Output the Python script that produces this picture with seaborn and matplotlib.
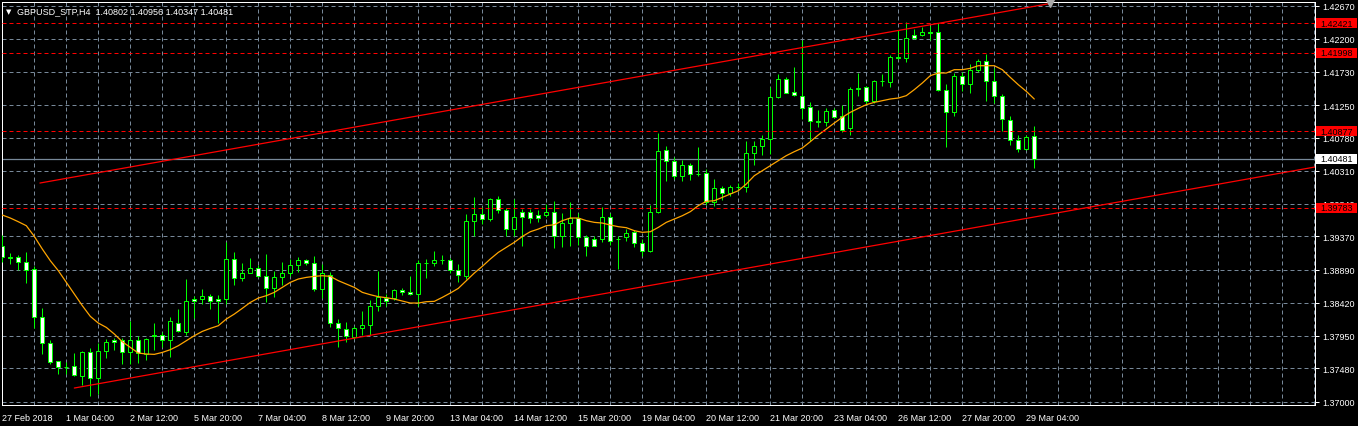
import numpy as np
import pandas as pd
import matplotlib
matplotlib.use("Agg")
import matplotlib.pyplot as plt
import matplotlib.transforms as mtransforms
from matplotlib.patches import Rectangle
import seaborn as sns

# --- chart data (GBPUSD H4) ---
title_text = "GBPUSD_STP,H4  1.40802 1.40956 1.40347 1.40481"

opens = [1.39228, 1.39076, 1.39071, 1.38999, 1.38899, 1.38212, 1.37839, 1.37582, 1.37505, 1.37510,
         1.37376, 1.37710, 1.37338, 1.37725, 1.37882, 1.37882, 1.37710, 1.37882, 1.37687, 1.37954,
         1.37954, 1.37882, 1.38135, 1.38006, 1.38469, 1.38469, 1.38512, 1.38469, 1.38469, 1.39042,
         1.38770, 1.38846, 1.38913, 1.38808, 1.38627, 1.38784, 1.38846, 1.38961, 1.39028, 1.38985,
         1.38613, 1.38818, 1.38126, 1.38040, 1.37926, 1.38059, 1.38098, 1.38370, 1.38489, 1.38484,
         1.38599, 1.38570, 1.38542, 1.38985, 1.38990, 1.39028, 1.39028, 1.38885, 1.38799, 1.39587,
         1.39687, 1.39615, 1.39902, 1.39744, 1.39482, 1.39716, 1.39715, 1.39672, 1.39672, 1.39715,
         1.39371, 1.39558, 1.39629, 1.39357, 1.39333, 1.39333, 1.39643, 1.39338, 1.39357, 1.39429,
         1.39271, 1.39166, 1.39715, 1.40608, 1.40445, 1.40231, 1.40388, 1.40266, 1.40274, 1.39868,
         1.40059, 1.39987, 1.40073, 1.40073, 1.40560, 1.40660, 1.40765, 1.41362, 1.41625, 1.41434,
         1.41376, 1.41219, 1.41018, 1.41004, 1.41176, 1.41090, 1.40918, 1.41481, 1.41505, 1.41305,
         1.41596, 1.41577, 1.41935, 1.41925, 1.42254, 1.42254, 1.42293, 1.42293, 1.41467, 1.41147,
         1.41663, 1.41553, 1.41753, 1.41887, 1.41591, 1.41386, 1.41033, 1.40746, 1.40617, 1.40802]
highs = [1.39391, 1.39133, 1.39104, 1.39142, 1.38951, 1.38345, 1.37882, 1.37591, 1.37567, 1.37701,
         1.37734, 1.37777, 1.37844, 1.37901, 1.37911, 1.37911, 1.38154, 1.37944, 1.37911, 1.38130,
         1.37997, 1.38216, 1.38326, 1.38761, 1.38522, 1.38617, 1.38546, 1.38527, 1.39286, 1.39147,
         1.38985, 1.39056, 1.38956, 1.39118, 1.38880, 1.38999, 1.39047, 1.39071, 1.39047, 1.39085,
         1.38975, 1.38866, 1.38188, 1.38141, 1.38093, 1.38303, 1.38456, 1.38876, 1.38546, 1.38623,
         1.38632, 1.38804, 1.39033, 1.39048, 1.39157, 1.39105, 1.39062, 1.38971, 1.39692, 1.39935,
         1.39787, 1.39921, 1.39950, 1.39773, 1.39907, 1.39763, 1.39763, 1.39748, 1.39834, 1.39873,
         1.39710, 1.39858, 1.39706, 1.39386, 1.39381, 1.39787, 1.39706, 1.39381, 1.39476, 1.39467,
         1.39333, 1.39825, 1.40851, 1.40660, 1.40512, 1.40469, 1.40417, 1.40655, 1.40336, 1.40192,
         1.40097, 1.40111, 1.40135, 1.40736, 1.40736, 1.40827, 1.41514, 1.41696, 1.41648, 1.41792,
         1.42188, 1.41290, 1.41181, 1.41209, 1.41204, 1.41252, 1.41515, 1.41710, 1.41520, 1.41615,
         1.41696, 1.41973, 1.42331, 1.42436, 1.42340, 1.42364, 1.42388, 1.42426, 1.41553, 1.41710,
         1.41720, 1.41839, 1.41911, 1.41982, 1.41782, 1.41410, 1.41099, 1.40823, 1.40827, 1.40956]
lows = [1.38999, 1.38971, 1.38889, 1.38698, 1.38054, 1.37691, 1.37548, 1.37405, 1.37400, 1.37376,
        1.37247, 1.37090, 1.37109, 1.37634, 1.37749, 1.37539, 1.37543, 1.37553, 1.37606, 1.37749,
        1.37792, 1.37639, 1.38006, 1.37959, 1.38202, 1.38398, 1.38331, 1.38130, 1.38398, 1.38679,
        1.38727, 1.38842, 1.38789, 1.38436, 1.38508, 1.38675, 1.38799, 1.38856, 1.38961, 1.38593,
        1.38484, 1.38068, 1.37782, 1.37864, 1.37902, 1.37964, 1.37964, 1.38303, 1.38379, 1.38465,
        1.38532, 1.38527, 1.38379, 1.38780, 1.38952, 1.38971, 1.38847, 1.38723, 1.38766, 1.39382,
        1.39549, 1.39592, 1.39711, 1.39377, 1.39372, 1.39238, 1.39567, 1.39581, 1.39643, 1.39199,
        1.39214, 1.39233, 1.39252, 1.39095, 1.39229, 1.39286, 1.39247, 1.38904, 1.39300, 1.39223,
        1.39095, 1.39152, 1.39710, 1.40168, 1.40192, 1.40168, 1.40183, 1.40240, 1.39825, 1.39801,
        1.39896, 1.39954, 1.40021, 1.40011, 1.40398, 1.40541, 1.40550, 1.41347, 1.41424, 1.41386,
        1.41052, 1.40742, 1.40942, 1.40956, 1.41061, 1.40870, 1.40823, 1.41376, 1.41262, 1.41281,
        1.41520, 1.41505, 1.41911, 1.41873, 1.42197, 1.42235, 1.42188, 1.41453, 1.40646, 1.41099,
        1.41457, 1.41429, 1.41720, 1.41314, 1.41281, 1.40885, 1.40684, 1.40574, 1.40613, 1.40347]
closes = [1.39071, 1.39066, 1.38999, 1.38894, 1.38212, 1.37839, 1.37577, 1.37496, 1.37500, 1.37381,
          1.37710, 1.37338, 1.37725, 1.37854, 1.37854, 1.37710, 1.37882, 1.37696, 1.37897, 1.37949,
          1.37887, 1.38154, 1.38011, 1.38441, 1.38441, 1.38512, 1.38441, 1.38446, 1.39042, 1.38770,
          1.38846, 1.38913, 1.38808, 1.38627, 1.38784, 1.38846, 1.38961, 1.39028, 1.38990, 1.38617,
          1.38846, 1.38130, 1.38059, 1.37940, 1.38059, 1.38098, 1.38370, 1.38503, 1.38441, 1.38599,
          1.38570, 1.38542, 1.38985, 1.38990, 1.39028, 1.39033, 1.38885, 1.38814, 1.39587, 1.39692,
          1.39615, 1.39902, 1.39744, 1.39482, 1.39644, 1.39644, 1.39629, 1.39629, 1.39720, 1.39371,
          1.39558, 1.39629, 1.39357, 1.39238, 1.39238, 1.39643, 1.39309, 1.39328, 1.39414, 1.39271,
          1.39166, 1.39715, 1.40589, 1.40445, 1.40231, 1.40388, 1.40266, 1.40271, 1.39868, 1.40059,
          1.39987, 1.40073, 1.40078, 1.40560, 1.40660, 1.40765, 1.41362, 1.41619, 1.41429, 1.41391,
          1.41204, 1.41018, 1.41009, 1.41161, 1.41076, 1.40899, 1.41481, 1.41491, 1.41305, 1.41596,
          1.41591, 1.41935, 1.41925, 1.42207, 1.42207, 1.42293, 1.42288, 1.41467, 1.41147, 1.41663,
          1.41553, 1.41753, 1.41877, 1.41596, 1.41386, 1.41052, 1.40746, 1.40617, 1.40789, 1.40481]

ma_values = [1.39677, 1.39634, 1.39581, 1.39524, 1.39371, 1.39190, 1.39023, 1.38880, 1.38713, 1.38546,
             1.38379, 1.38226, 1.38130, 1.38068, 1.37973, 1.37863, 1.37782, 1.37701, 1.37687, 1.37682,
             1.37710, 1.37749, 1.37806, 1.37878, 1.37949, 1.38011, 1.38054, 1.38092, 1.38188, 1.38259,
             1.38341, 1.38426, 1.38488, 1.38522, 1.38570, 1.38641, 1.38713, 1.38761, 1.38784, 1.38799,
             1.38808, 1.38799, 1.38737, 1.38689, 1.38641, 1.38570, 1.38536, 1.38508, 1.38493, 1.38474,
             1.38446, 1.38417, 1.38417, 1.38436, 1.38441, 1.38498, 1.38560, 1.38627, 1.38737, 1.38846,
             1.38942, 1.39047, 1.39142, 1.39214, 1.39286, 1.39370, 1.39438, 1.39476, 1.39524, 1.39538,
             1.39596, 1.39634, 1.39634, 1.39596, 1.39572, 1.39562, 1.39534, 1.39510, 1.39496, 1.39453,
             1.39429, 1.39438, 1.39500, 1.39572, 1.39620, 1.39667, 1.39725, 1.39811, 1.39873, 1.39882,
             1.39930, 1.39978, 1.40025, 1.40121, 1.40240, 1.40312, 1.40383, 1.40455, 1.40527, 1.40584,
             1.40636, 1.40727, 1.40823, 1.40909, 1.40994, 1.41076, 1.41147, 1.41204, 1.41257, 1.41290,
             1.41314, 1.41338, 1.41352, 1.41386, 1.41472, 1.41567, 1.41672, 1.41710, 1.41710, 1.41758,
             1.41758, 1.41777, 1.41815, 1.41815, 1.41815, 1.41758, 1.41648, 1.41543, 1.41448, 1.41338]

x_tick_labels = ["27 Feb 2018", "1 Mar 04:00", "2 Mar 12:00", "5 Mar 20:00", "7 Mar 04:00",
                 "8 Mar 12:00", "9 Mar 20:00", "13 Mar 04:00", "14 Mar 12:00", "15 Mar 20:00",
                 "19 Mar 04:00", "20 Mar 12:00", "21 Mar 20:00", "23 Mar 04:00", "26 Mar 12:00",
                 "27 Mar 20:00", "29 Mar 04:00"]
y_tick_labels = ["1.42670", "1.42200", "1.41730", "1.41250", "1.40780", "1.40310", "1.39840",
                 "1.39370", "1.38890", "1.38420", "1.37950", "1.37480", "1.37000"]

level_prices = [1.42421, 1.41998, 1.40877, 1.39783]
bid_price = 1.40481
# trend lines: (bar index, price) anchors
upper_trend_x = [4.7, 131.0]
upper_trend_y = [1.40135, 1.42706]
lower_trend_x = [9.0, 164.1]
lower_trend_y = [1.37200, 1.40365]

# --- styling ---
GREEN = "#00FF00"
GRID = "#778899"
sns.set_style("dark", rc={"axes.facecolor": "black", "figure.facecolor": "black",
                          "axes.edgecolor": "white", "grid.color": GRID})
plt.rcParams["font.family"] = ["Liberation Sans", "DejaVu Sans"]
px = 0.72  # one pixel in points at dpi 100

W, H = 1358, 427
fig = plt.figure(figsize=(W / 100, H / 100), dpi=100)
ax = fig.add_axes([2 / W, (H - 406) / H, 1313 / W, 403 / H])

df = pd.DataFrame({"o": opens, "h": highs, "l": lows, "c": closes})
df["i"] = np.arange(len(df))
bull = df["c"] >= df["o"]
body_lo = np.minimum(df["o"], df["c"])
body_h = (df["o"] - df["c"]).abs()

# candles
ax.vlines(df["i"], df["l"], df["h"], color=GREEN, lw=px, zorder=3)
ax.bar(df["i"], body_h, bottom=body_lo, width=0.5,
       color=np.where(bull, "black", "white"), edgecolor=GREEN, linewidth=px, zorder=3.5)

# moving average
sns.lineplot(x=df["i"], y=ma_values, ax=ax, color="#FFA500", linewidth=0.9, zorder=4, legend=False)

# trend lines
sns.lineplot(x=upper_trend_x, y=upper_trend_y, ax=ax, color="#FF0000", linewidth=0.9, zorder=5)
sns.lineplot(x=lower_trend_x, y=lower_trend_y, ax=ax, color="#FF0000", linewidth=0.9, zorder=5)
ax.plot(upper_trend_x[-1], upper_trend_y[-1], marker="v", color="#A9A9A9", ms=6,
        clip_on=False, zorder=6)

# horizontal levels
for p in level_prices:
    ax.axhline(p, color="#FF0000", lw=px, ls=(0, (4, 3)), zorder=5)
ax.axhline(bid_price, color=GRID, lw=0.9, zorder=2)

# axes limits
ax.set_xlim(-0.04, 164.09)
ax.set_ylim(1.36957, 1.42727)

# ticks and grid
major_x = np.arange(0, 8 * len(x_tick_labels), 8)
minor_x = [v for v in range(0, 165, 4) if v not in set(major_x)]
ax.set_xticks(major_x)
ax.set_xticklabels(x_tick_labels, ha="left")
ax.set_xticks(minor_x, minor=True)
y_vals = [float(s) for s in y_tick_labels]
ax.set_yticks(y_vals)
ax.set_yticklabels(y_tick_labels)
ax.yaxis.tick_right()
ax.tick_params(axis="y", length=3, width=px, color="white", labelcolor="white",
               labelsize=6.5, pad=2)
ax.tick_params(axis="x", which="major", length=4, width=px, color="white",
               labelcolor="white", labelsize=6.5, pad=1.5)
ax.tick_params(axis="x", which="minor", length=0)
ax.grid(True, which="both", axis="x", color=GRID, lw=px, ls=(0, (4, 3)), zorder=0)
ax.grid(True, which="major", axis="y", color=GRID, lw=px, ls=(0, (4, 3)), zorder=0)
ax.set_axisbelow(True)
for sp in ax.spines.values():
    sp.set_color("white")
    sp.set_linewidth(px)
ax.set_xlabel("")
ax.set_ylabel("")

# price boxes on the right scale
blend = mtransforms.blended_transform_factory(ax.transAxes, ax.transData)
box_h = 10 * (1.42727 - 1.36957) / 403
for p, fc in [(v, "#FF0000") for v in level_prices] + [(bid_price, "white")]:
    ax.add_patch(Rectangle((1.0008, p - box_h / 2), 41 / 1313, box_h, transform=blend,
                           facecolor=fc, edgecolor="none", clip_on=False, zorder=10))
    ax.text(1.0008 + 4 / 1313, p, f"{p:.5f}", transform=blend, color="black",
            fontsize=6.5, va="center", ha="left", clip_on=False, zorder=11)

# title
fig.text(6 / W, 1 - 12 / H, "\u25bc", color="white", fontsize=5, va="center", ha="left",
         family=["DejaVu Sans"])
fig.text(17 / W, 1 - 12 / H, title_text, color="white", fontsize=6.5, va="center", ha="left")

fig.savefig("out.png", dpi=100, facecolor="black")
